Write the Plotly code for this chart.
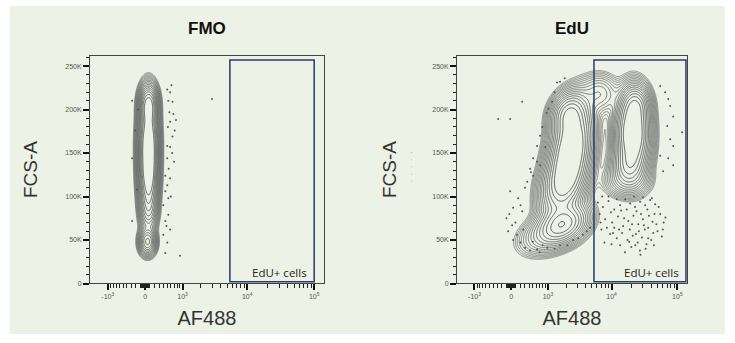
import numpy as np
import plotly.graph_objects as go

# ---- axis transform (arcsinh, FlowJo-like biexponential display) ----
COFACTOR = 600.0


def disp(v):
    return np.arcsinh(np.asarray(v, dtype=float) / COFACTOR)


panel_titles = ["FMO", "EdU"]
x_label = "AF488"
y_label = "FCS-A"
gate_label = "EdU+ cells"

af488_range = [-1950, 140000]
fsc_range = [0, 262144]

x_major_vals = [-1000, 0, 1000, 10000, 100000]
x_major_text = ["-10<sup>3</sup>", "0", "10<sup>3</sup>", "10<sup>4</sup>", "10<sup>5</sup>"]
x_minor_vals = ([-900, -800, -700, -600, -500, -400, -300, -200, -100,
                 -90, -80, -70, -60, -50, -40, -30, -20, -10,
                 10, 20, 30, 40, 50, 60, 70, 80, 90,
                 100, 200, 300, 400, 500, 600, 700, 800, 900,
                 2000, 3000, 4000, 5000, 6000, 7000, 8000, 9000,
                 20000, 30000, 40000, 50000, 60000, 70000, 80000, 90000])
y_major_vals = [0, 50000, 100000, 150000, 200000, 250000]
y_major_text = ["0", "50K", "100K", "150K", "200K", "250K"]
y_minor_step = 10000

# ---- population components: AF488 centre, FSC-A centre, spreads, weight, tilt ----
fmo_af488 = [70, 70, 70, 70, 50]
fmo_fsc = [160e3, 205e3, 120e3, 85e3, 48e3]
fmo_sd_disp = [0.17, 0.16, 0.165, 0.16, 0.15]
fmo_sd_fsc = [25e3, 12e3, 20e3, 14e3, 8e3]
fmo_weight = [1.0, 0.6, 0.6, 0.2, 0.35]
fmo_tilt = [0.0, 0.0, 0.0, 0.0, 0.0]

edu_af488 = [2400, 2200, 1800, 1770, 900, 21000, 23200, 18000, 6600, 17000]
edu_fsc = [155e3, 195e3, 115e3, 68e3, 55e3, 172e3, 205e3, 135e3, 218e3, 118e3]
edu_sd_disp = [0.37, 0.32, 0.4, 0.45, 0.5, 0.3, 0.25, 0.3, 0.35, 0.42]
edu_sd_fsc = [26e3, 13e3, 20e3, 12e3, 12e3, 23e3, 12e3, 12e3, 12e3, 10e3]
edu_weight = [1.0, 0.45, 0.55, 0.5, 0.1, 1.0, 0.35, 0.3, 0.1, 0.1]
edu_tilt = [0.3, 0.2, 0.3, 0.3, 0.3, 0.0, 0.0, 0.0, 0.0, 0.0]

# ---- individual events outside the contours (AF488, FSC-A in K) ----
fmo_dot_af488 = [500, 580, 530, 650, 560, 680, 580, 520, 720, 650, 500, 580, 500, 540,
                 450, 580, 500, 450, 530, 400, 530, 450, 580, 400, 500, 450, 905, 2960,
                 -277, -211, -277, -167, -277, 640, 700, 600, 620, -150, 760, 480]
fmo_dot_fsc = [223, 220, 210, 209, 197, 195, 186, 180, 176, 169, 158, 157, 144, 132,
               124, 121, 113, 106, 98, 90, 79, 72, 62, 56, 47, 35, 32, 212,
               210, 176, 144, 108, 72, 150, 140, 100, 228, 200, 188, 66]

edu_dot_af488 = [236, -284, -22, 788, 1020, 1180, 1430, 1600, 716, 620, 895, 506, 716, 427,
                 54800, 65200, 72500, 77700, 86300, 70000, 118000, 77700, 86300, 54800,
                 72500, 86300, 60800,
                 -22, 147, 41, 236, -100, 20, -64, 120, 41, 200, 304, 427, 620, 975, 1600,
                 2590, 3670, 4720, 506, 354,
                 6200, 7400, 9000, 6600, 11000, 13500, 16100, 19200, 22800, 27200, 32400,
                 38600, 46000, 8000, 10200, 12500, 15000, 18000, 21500, 25500, 30000,
                 36000, 42000, 50000, 7000, 9500, 12000, 14500, 17500, 21000, 25000,
                 29000, 34000, 40000, 58000, 20000, 27000, 16000, 32000, 24000, 11000,
                 45000, 62000, 7800, 19000, 14000, 35000, 26000, 52000, 9000,
                 6800, 8500, 10500, 13000, 15500, 17000, 20500, 23500, 28000, 31000,
                 37000, 43000, 48000, 55000, 60000, 66000, 9800, 12000, 22000, 30000,
                 41000, 7200, 18500, 23000, 33000, 44000, 13500, 10000, 27500, 36000,
                 90, -40, 260, 500, 800, 1300, 2100, 3100, 4200, 700, 300, 450, 620, 200,
                 1300, 1900, 950]
edu_dot_fsc = [209, 189, 189, 180, 201, 209, 231, 232, 170, 158, 157, 144, 136, 132,
               227, 220, 212, 204, 192, 181, 174, 166, 158, 147,
               144, 136, 129,
               106, 98, 87, 83, 75, 67, 60, 56, 50, 47, 41, 38, 39, 41, 44,
               50, 56, 64, 124, 117,
               93, 88, 95, 80, 85, 90, 97, 92, 88, 94, 90,
               96, 91, 74, 70, 77, 66, 72, 78, 68, 74,
               64, 71, 60, 62, 57, 52, 58, 50, 55, 47,
               53, 45, 50, 54, 42, 38, 36, 62, 83, 64,
               80, 70, 47, 62, 84, 85, 60, 88, 100,
               70, 64, 58, 62, 75, 85, 68, 57, 80, 67,
               78, 58, 68, 80, 62, 76, 82, 97, 100, 99,
               98, 100, 48, 44, 40, 44, 44, 45, 33, 52,
               70, 80, 62, 48, 44, 40, 44, 52, 60, 36, 110, 128, 140, 90,
               220, 236, 196]

# ---- gates ----
gate_lo = [5500, 5400]
gate_hi = [100000, 135000]
gate_fsc = [2000, 257000]

# ---- figure geometry ----
W, H = 735, 343
x_domains = [[90 / W, 324 / W], [457 / W, 687 / W]]
y_domain = [1 - 286 / H, 1 - 56 / H]
y_title_standoff = [22, 30]

FONT = "Arial, Liberation Sans, sans-serif"
N_LEVELS = 16
LEVEL_LOW = 2.1   # decades below the peak for the outermost contour
LEVEL_HIGH = 0.3  # decades below the peak for the innermost contour


def density(comp_x, comp_y, sdx, sdy, w, rho, ugrid, fgrid):
    U, F = np.meshgrid(ugrid, fgrid)
    D = np.zeros_like(U)
    for cx, cy, sx, sy, ww, r in zip(disp(comp_x), comp_y, sdx, sdy, w, rho):
        dx = (U - cx) / sx
        dy = (F - cy) / sy
        q = (dx * dx - 2 * r * dx * dy + dy * dy) / (1 - r * r)
        D += ww * np.exp(-0.5 * q)
    return np.log10(D + 1e-12)


ugrid = np.linspace(disp(af488_range[0]), disp(af488_range[1]), 400)
fgrid = np.linspace(fsc_range[0], fsc_range[1], 320)

panels = [
    (fmo_af488, fmo_fsc, fmo_sd_disp, fmo_sd_fsc, fmo_weight, fmo_tilt, fmo_dot_af488, fmo_dot_fsc),
    (edu_af488, edu_fsc, edu_sd_disp, edu_sd_fsc, edu_weight, edu_tilt, edu_dot_af488, edu_dot_fsc),
]

fig = go.Figure()
for i, (cx, cy, sx, sy, w, r, dx, dy) in enumerate(panels):
    xa = "x" if i == 0 else "x2"
    ya = "y" if i == 0 else "y2"
    Z = density(cx, cy, sx, sy, w, r, ugrid, fgrid)
    zmax = float(Z.max())
    start = zmax - LEVEL_LOW
    end = zmax - LEVEL_HIGH
    fig.add_trace(go.Contour(
        x=ugrid, y=fgrid, z=Z, xaxis=xa, yaxis=ya,
        autocontour=False,
        contours=dict(coloring="lines", start=start, end=end,
                      size=(end - start) / (N_LEVELS - 1)),
        line=dict(width=0.8, smoothing=1.0),
        colorscale=[[0, "#7a7a7a"], [1, "#3a3a3a"]],
        showscale=False, hoverinfo="skip",
    ))
    fig.add_trace(go.Scatter(
        x=disp(dx), y=np.asarray(dy) * 1000, xaxis=xa, yaxis=ya,
        mode="markers", marker=dict(size=2, color="#555555"),
        showlegend=False, hoverinfo="skip",
    ))
    # carrier for the minor-tick overlay axis
    fig.add_trace(go.Scatter(x=[], y=[], xaxis="x3" if i == 0 else "x4", yaxis=ya,
                             showlegend=False, hoverinfo="skip"))
    fig.add_shape(type="rect", xref=xa, yref=ya,
                  x0=float(disp(gate_lo[i])), x1=float(disp(gate_hi[i])),
                  y0=gate_fsc[0], y1=gate_fsc[1],
                  line=dict(color="#2b3a67", width=1.5))
    fig.add_annotation(xref=xa, yref=ya, x=float(disp(gate_hi[i])), y=gate_fsc[0],
                       text=gate_label, showarrow=False, xanchor="right", yanchor="bottom",
                       xshift=-5, yshift=0,
                       font=dict(family="Open Sans, sans-serif", size=11.5, color="#222222"))
    fig.add_annotation(xref="paper", yref="paper",
                       x=sum(x_domains[i]) / 2, y=1 - 29 / H,
                       text="<b>%s</b>" % panel_titles[i], showarrow=False,
                       xanchor="center", yanchor="middle",
                       font=dict(family=FONT, size=17, color="#111111"))

# faint dotted mark beside the second FCS-A title
fig.add_annotation(xref="paper", yref="paper", x=412 / W, y=1 - 169 / H,
                   text="·  ·  ·  ·  ·", textangle=-90, showarrow=False,
                   font=dict(family=FONT, size=8, color="#9a9a9a"))

x_rng = [float(disp(af488_range[0])), float(disp(af488_range[1]))]
xaxis_style = dict(
    range=x_rng,
    tickmode="array", tickvals=disp(x_major_vals).tolist(), ticktext=x_major_text,
    ticks="outside", ticklen=6, tickwidth=1.5, tickcolor="#111111",
    tickfont=dict(family=FONT, size=7, color="#555555"),
    showgrid=False, zeroline=False,
    showline=True, linecolor="#444444", linewidth=1, mirror=True,
    title=dict(text=x_label, font=dict(family=FONT, size=20, color="#333333"), standoff=12),
)
xminor_style = dict(
    range=x_rng, side="bottom",
    tickmode="array", tickvals=disp(x_minor_vals).tolist(),
    ticks="outside", ticklen=4, tickwidth=1.4, tickcolor="#222222",
    showticklabels=False, showgrid=False, zeroline=False, showline=False,
)
yaxis_style = dict(
    range=fsc_range, domain=y_domain,
    tickmode="array", tickvals=y_major_vals, ticktext=y_major_text,
    ticks="outside", ticklen=6, tickwidth=1.5, tickcolor="#111111",
    minor=dict(dtick=y_minor_step, tick0=0, ticks="outside", ticklen=3, tickwidth=1.4,
               tickcolor="#222222"),
    tickfont=dict(family=FONT, size=7, color="#555555"),
    showgrid=False, zeroline=False,
    showline=True, linecolor="#444444", linewidth=1, mirror=True,
)


def ytitle(k):
    return dict(text=y_label, font=dict(family=FONT, size=19, color="#333333"),
                standoff=y_title_standoff[k])


fig.update_layout(
    width=W, height=H, margin=dict(l=0, r=0, t=0, b=0),
    paper_bgcolor="white", plot_bgcolor="white", showlegend=False,
    xaxis=dict(xaxis_style, domain=x_domains[0], anchor="y"),
    yaxis=dict(yaxis_style, anchor="x", title=ytitle(0)),
    xaxis2=dict(xaxis_style, domain=x_domains[1], anchor="y2"),
    yaxis2=dict(yaxis_style, anchor="x2", title=ytitle(1)),
    xaxis3=dict(xminor_style, domain=x_domains[0], anchor="y", overlaying="x"),
    xaxis4=dict(xminor_style, domain=x_domains[1], anchor="y2", overlaying="x2"),
    shapes=list(fig.layout.shapes) + [dict(type="rect", xref="paper", yref="paper",
                                           x0=10 / W, x1=725 / W, y0=1 - 337 / H, y1=1 - 6 / H,
                                           fillcolor="#ecf2e5", line=dict(width=0), layer="below")],
)

fig.write_html("out.html")
